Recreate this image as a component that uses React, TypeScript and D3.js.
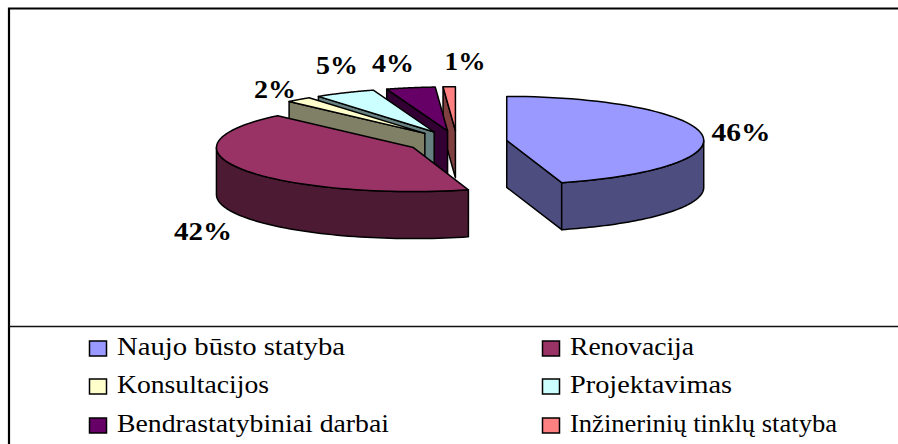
import React from "react";
import * as d3 from "d3";

const categories = ["Naujo būsto statyba", "Renovacija", "Konsultacijos", "Projektavimas", "Bendrastatybiniai darbai", "Inžinerinių tinklų statyba"];
const shares = [45.5, 42.4, 2.1, 5.0, 4.0, 1.0];
const topColors = ["#9999FF", "#993366", "#FFFFCC", "#CCFFFF", "#660066", "#FF8080"];
const wallColors = ["#4D4D80", "#4D1A33", "#808066", "#668080", "#330033", "#804040"];
const labelPos: [number, number][] = [[741, 141], [203, 240], [275, 98], [337, 74], [393, 72], [465, 70]];
const labelWidths = [59, 58, 42, 42, 42, 41];
const legendWidths = [228, 124, 152, 162, 272, 267];

const cx = 457, cy = 142, rx = 197, ry = 44, depth = 47, explode = 0.255;

export default function App() {
  const arcs = d3.pie<number>().sort(null).value((d) => d)(shares);
  const pt = (c: [number, number], a: number, dy = 0): [number, number] => [
    c[0] + rx * Math.sin(a),
    c[1] - ry * Math.cos(a) + dy,
  ];
  const line = d3.line();
  const slices = arcs.map((s, i) => {
    const mid = (s.startAngle + s.endAngle) / 2;
    const c: [number, number] = [cx + explode * rx * Math.sin(mid), cy - explode * ry * Math.cos(mid)];
    const angles = d3.range(0, 61).map((k) => s.startAngle + ((s.endAngle - s.startAngle) * k) / 60);
    const top = line([c, ...angles.map((a) => pt(c, a))])! + "Z";
    const walls: string[] = [];
    if (s.startAngle > Math.PI * 1.5) {
      walls.push(line([c, pt(c, s.startAngle), pt(c, s.startAngle, depth), [c[0], c[1] + depth]])! + "Z");
    }
    if (s.endAngle < Math.PI) {
      walls.push(line([c, pt(c, s.endAngle), pt(c, s.endAngle, depth), [c[0], c[1] + depth]])! + "Z");
    }
    const lo = Math.max(s.startAngle, Math.PI / 2);
    const hi = Math.min(s.endAngle, Math.PI * 1.5);
    if (hi > lo) {
      const rim = d3.range(0, 61).map((k) => lo + ((hi - lo) * k) / 60);
      walls.push(
        line([...rim.map((a) => pt(c, a)), ...rim.slice().reverse().map((a) => pt(c, a, depth))])! + "Z"
      );
    }
    return { top, walls, i };
  });
  const order = [5, 4, 3, 2, 1, 0];
  const legendRows = d3.scaleOrdinal<number, number>().domain([0, 1, 2]).range([348.5, 386.5, 425.5]);
  const legendCols = d3.scaleOrdinal<number, number>().domain([0, 1]).range([89.5, 542.5]);

  return (
    <svg width={898} height={444} style={{ position: "absolute", left: 0, top: 0, background: "#fff" }}>
      <path d="M9 444V8.5H898" fill="none" stroke="#000" strokeWidth={2.2} />
      <line x1={9} x2={898} y1={326.5} y2={326.5} stroke="#111" strokeWidth={1.6} />
      {order.map((i) => (
        <g key={i} stroke="#000" strokeWidth={1.5} strokeLinejoin="round">
          {slices[i].walls.map((d, k) => (
            <path key={k} d={d} fill={wallColors[i]} />
          ))}
          <path d={slices[i].top} fill={topColors[i]} />
        </g>
      ))}
      {shares.map((v, i) => (
        <text
          key={i}
          x={labelPos[i][0]}
          y={labelPos[i][1]}
          textAnchor="middle"
          fontFamily="'Liberation Serif'"
          fontWeight="bold"
          fontSize={25}
          textLength={labelWidths[i]}
          lengthAdjust="spacingAndGlyphs"
        >
          {Math.round(v)}%
        </text>
      ))}
      {categories.map((c, i) => {
        const x = legendCols(i % 2);
        const y = legendRows(Math.floor(i / 2));
        return (
          <g key={c}>
            <rect x={x} y={y - 7.5} width={17} height={15} fill={topColors[i]} stroke="#000" strokeWidth={1.5} />
            <text
              x={x + 27.5}
              y={y + 6.5}
              fontFamily="'Liberation Serif'"
              fontSize={26}
              fill="#000"
              textLength={legendWidths[i]}
              lengthAdjust="spacingAndGlyphs"
            >
              {c}
            </text>
          </g>
        );
      })}
    </svg>
  );
}
